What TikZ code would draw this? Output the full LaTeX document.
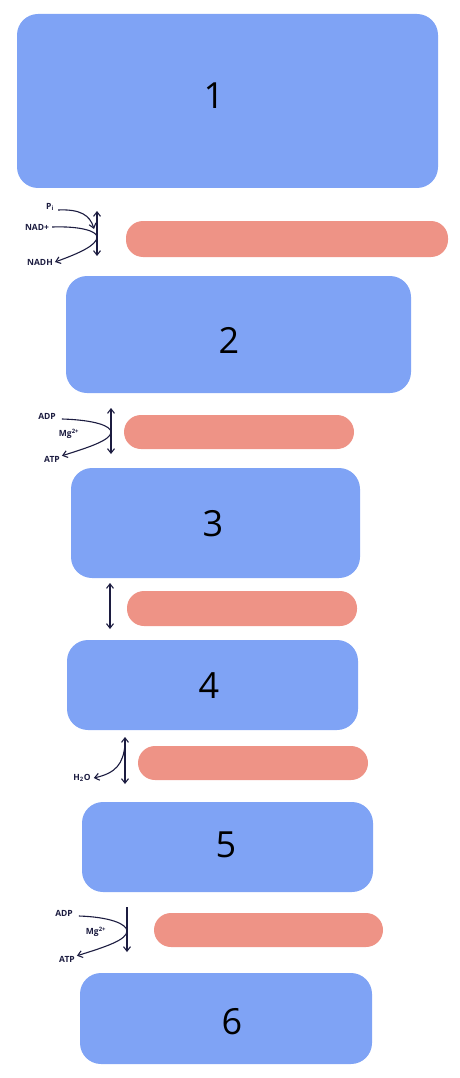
\documentclass[tikz,border=0pt]{standalone}
\usepackage{fontspec}
\setmainfont{Open Sans}
\usetikzlibrary{arrows.meta}
\definecolor{boxblue}{RGB}{127,163,245}
\definecolor{barpink}{RGB}{238,147,134}
\definecolor{ink}{RGB}{28,28,64}
\tikzset{
  stepbox/.style={fill=boxblue, draw=none, rounded corners=21pt, inner sep=0pt},
  barbox/.style={fill=barpink, draw=none, rounded corners=17pt, inner sep=0pt},
  numlabel/.style={font=\fontsize{36}{36}\selectfont, text=black, inner sep=0pt},
  chem/.style={font=\fontsize{8.5}{9}\selectfont\bfseries, text=ink, inner sep=0pt},
  rxn/.style={draw=ink, line width=1.1pt, -{Straight Barb[length=4.5pt,width=7pt]}},
  rxnboth/.style={draw=ink, line width=1.1pt, {Straight Barb[length=4.5pt,width=7pt]}-{Straight Barb[length=4.5pt,width=7pt]}},
}
\begin{document}
\begin{tikzpicture}[x=1pt,y=-1pt]
\useasboundingbox (0,0) rectangle (460,1078);
% enzyme/step boxes
\node[stepbox, minimum width=421pt, minimum height=174pt] (b1) at (227.5,101) {};
\node[stepbox, minimum width=345pt, minimum height=117pt] (b2) at (238.5,334.5) {};
\node[stepbox, minimum width=289pt, minimum height=110pt] (b3) at (215.5,523) {};
\node[stepbox, minimum width=291pt, minimum height=90pt] (b4) at (212.5,685) {};
\node[stepbox, minimum width=291pt, minimum height=90pt] (b5) at (227.5,847) {};
\node[stepbox, minimum width=292pt, minimum height=91pt] (b6) at (226,1018.5) {};
\node[numlabel] (n1) at (214,96) {1};
\node[numlabel] (n2) at (229,340) {2};
\node[numlabel] (n3) at (213,524) {3};
\node[numlabel] (n4) at (209,686) {4};
\node[numlabel] (n5) at (226,845) {5};
\node[numlabel] (n6) at (232,1022) {6};
% bars
\node[barbox, minimum width=322pt, minimum height=36pt] (p1) at (287,239) {};
\node[barbox, minimum width=230pt, minimum height=34pt] (p2) at (239,432) {};
\node[barbox, minimum width=230pt, minimum height=35pt] (p3) at (242,608.5) {};
\node[barbox, minimum width=230pt, minimum height=34pt] (p4) at (253,763) {};
\node[barbox, minimum width=229pt, minimum height=34pt] (p5) at (268.5,930) {};
% reaction 1
\coordinate (a1t) at (97,211);
\coordinate (a1b) at (97,256);
\draw[rxnboth] (a1t) -- (a1b);
\node[chem] (pi) at (50,207) {P\textsubscript{i}};
\node[chem] (nadp) at (37,227) {NAD+};
\node[chem] (nadh) at (40,262) {NADH};
\draw[rxn] (pi.east) ++(4,3) .. controls (80,209) and (90,215) .. (94,229);
\draw[rxn] (nadp.east) ++(3,0) .. controls (80,226) and (97,231) .. (97,237)
   .. controls (97,245) and (80,253) .. ([xshift=2pt]nadh.east);
% reaction 2
\coordinate (a2t) at (111,408);
\coordinate (a2b) at (111,454);
\draw[rxnboth] (a2t) -- (a2b);
\node[chem] (adp1) at (47,416) {ADP};
\node[chem] (mg1) at (69,434) {Mg\textsuperscript{2+}};
\node[chem] (atp1) at (52,459) {ATP};
\draw[rxn] (adp1.east) ++(6,3) .. controls (95,420) and (111,426) .. (111,432)
   .. controls (111,440) and (90,447) .. ([xshift=2pt]atp1.north east);
% reaction 3
\coordinate (a3t) at (110,583);
\coordinate (a3b) at (110,629);
\draw[rxnboth] (a3t) -- (a3b);
% reaction 4
\coordinate (a4t) at (125,737);
\coordinate (a4b) at (125,784);
\draw[rxnboth] (a4t) -- (a4b);
\node[chem] (h2o) at (82,778) {H\textsubscript{2}O};
\draw[rxn] (125,745) .. controls (123,764) and (116,773) .. ([xshift=3pt]h2o.east);
% reaction 5
\coordinate (a5t) at (127,907);
\coordinate (a5b) at (127,952);
\draw[rxn] (a5t) -- (a5b);
\node[chem] (adp2) at (64,913) {ADP};
\node[chem] (mg2) at (96,932) {Mg\textsuperscript{2+}};
\node[chem] (atp2) at (67,959) {ATP};
\draw[rxn] (adp2.east) ++(6,3) .. controls (110,917) and (127,924) .. (127,931)
   .. controls (127,940) and (105,947) .. ([xshift=2pt]atp2.north east);
\end{tikzpicture}
\end{document}
